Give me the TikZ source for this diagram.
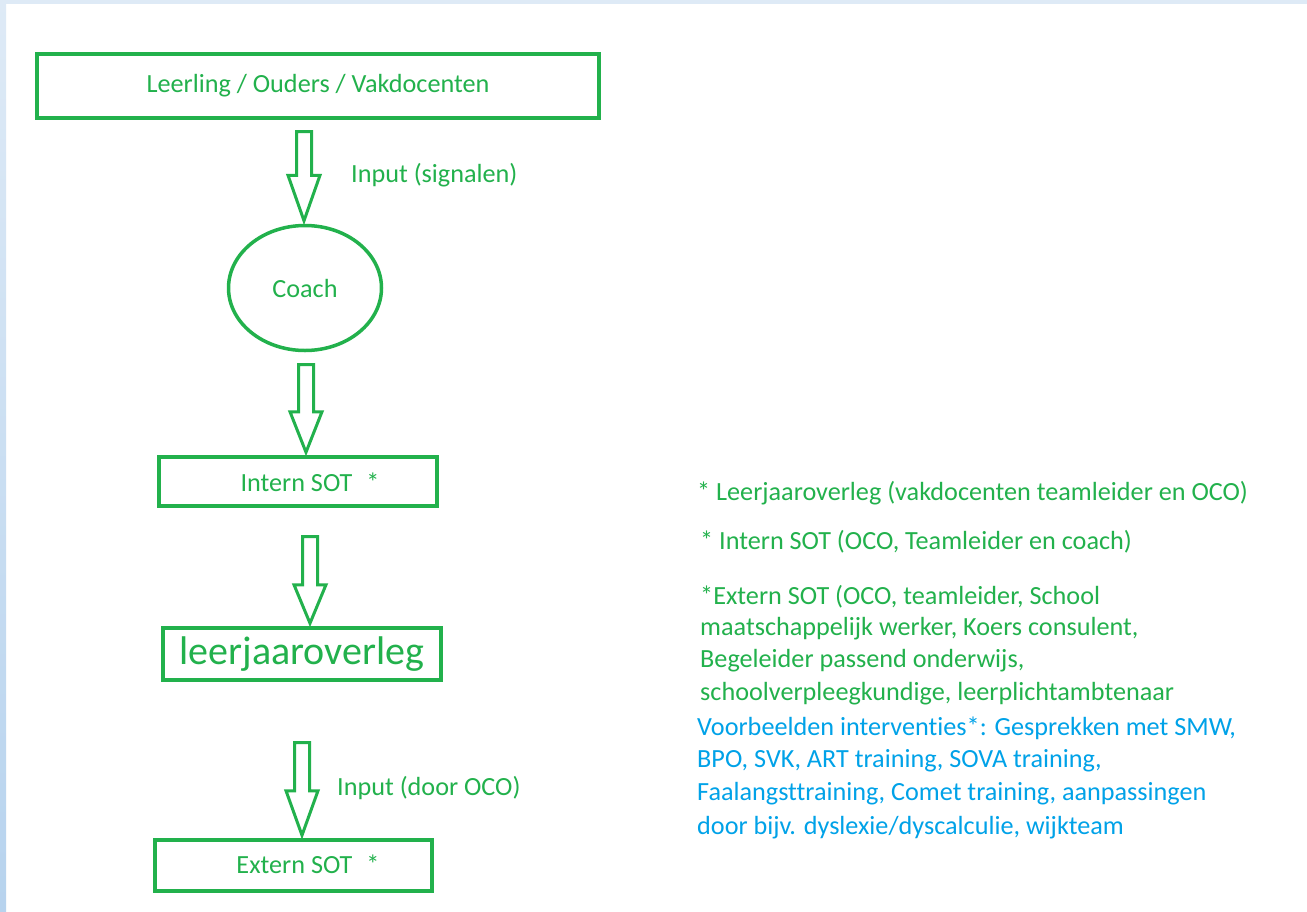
\documentclass[tikz,border=0pt]{standalone}
\usepackage{fontspec}
\setmainfont[Ligatures=NoCommon]{Carlito}
\usetikzlibrary{calc,shapes.geometric}
\definecolor{pgreen}{HTML}{22B14C}
\definecolor{pblue}{HTML}{00A2E8}
\definecolor{edgeblue}{HTML}{DEEAF6}
\definecolor{edgeblue1}{HTML}{C6DAF0}
\definecolor{edgeblue2}{HTML}{B7D3EE}
\tikzset{
  mainfont/.style={font=\fontsize{26.2}{33}\selectfont},
  boxn/.style={draw=pgreen, line width=3.5pt, rectangle, inner sep=0pt, text=pgreen, mainfont},
  ovaln/.style={draw=pgreen, line width=3.5pt, ellipse, inner sep=0pt, text=pgreen, mainfont},
  blk/.style={draw=pgreen, line width=3pt, line join=miter},
  gtext/.style={text=pgreen, mainfont, inner sep=0pt, anchor=base west},
  btext/.style={text=pblue, mainfont, inner sep=0pt, anchor=base west},
  ctext/.style={text=pgreen, mainfont, inner sep=0pt}
}
\newcommand{\blockarr}[3]{%
  \draw[blk] ($(#1)+(-7.5,0)$) -- ($(#2)+(-7.5,-#3)$) -- ($(#2)+(-16,-#3)$) -- (#2)
    -- ($(#2)+(16,-#3)$) -- ($(#2)+(7.5,-#3)$) -- ($(#1)+(7.5,0)$) -- cycle;}
\begin{document}
\begin{tikzpicture}[x=1pt,y=-1pt]
\useasboundingbox (0,0) rectangle (1307,911);
\fill[white] (0,0) rectangle (1307,911);
\fill[edgeblue] (0,0) rectangle (1307,4);
\shade[top color=edgeblue, middle color=edgeblue1, bottom color=edgeblue2] (0,0) rectangle (6,911);

% nodes
\node[boxn, minimum width=562pt, minimum height=64pt] (top) at (318,86) {Leerling / Ouders / Vakdocenten};
\node[ovaln, minimum width=153pt, minimum height=125pt] (coach) at (305,288) {Coach};
\node[boxn, minimum width=278pt, minimum height=49pt] (intern) at (298,481.5) {};
\node[ctext] (internlbl) at (310,482) {Intern SOT\hspace{14pt}*};
\node[boxn, minimum width=278pt, minimum height=52pt, font=\fontsize{40}{48}\selectfont] (leer) at (302,654) {leerjaaroverleg};
\node[boxn, minimum width=277pt, minimum height=51pt] (extern) at (293.5,865.5) {};
\node[ctext] (externlbl) at (308,864) {Extern SOT\hspace{14pt}*};

% block arrows
\coordinate (a1t) at (304,131.5);
\coordinate (a1b) at ($(a1t |- coach.north)+(0,-3)$);
\blockarr{a1t}{a1b}{45.5}
\coordinate (a2t) at (306,364.5);
\coordinate (a2b) at ($(a2t |- intern.north)+(0,-3)$);
\blockarr{a2t}{a2b}{40.5}
\coordinate (a3t) at (310,536.5);
\coordinate (a3b) at ($(a3t |- leer.north)+(0,-3)$);
\blockarr{a3t}{a3b}{38.5}
\coordinate (a4t) at (302,742.5);
\coordinate (a4b) at ($(a4t |- extern.north)+(0,-3)$);
\blockarr{a4t}{a4b}{44.5}

% arrow labels
\node[gtext] (lbl1) at (351,182) {Input (signalen)};
\node[gtext] (lbl4) at (337,795) {Input (door OCO)};

% legend
\node[gtext] (n1) at (697,500) {* Leerjaaroverleg (vakdocenten teamleider en OCO)};
\node[gtext] (n2) at (700,549) {* Intern SOT (OCO, Teamleider en coach)};
\node[gtext] (n3) at (700,604) {*Extern SOT (OCO, teamleider, School};
\node[gtext] (n4) at (700,635) {maatschappelijk werker, Koers consulent,};
\node[gtext] (n5) at (700,667) {Begeleider passend onderwijs,};
\node[gtext] (n6) at (700,700) {schoolverpleegkundige, leerplichtambtenaar};
\node[btext] (b1) at (697,735) {Voorbeelden interventies*: Gesprekken met SMW,};
\node[btext] (b2) at (697,767) {BPO, SVK, ART training, SOVA training,};
\node[btext] (b3) at (697,800) {Faalangsttraining, Comet training, aanpassingen};
\node[btext] (b4) at (697,834) {door bijv. dyslexie/dyscalculie, wijkteam};
\end{tikzpicture}
\end{document}
